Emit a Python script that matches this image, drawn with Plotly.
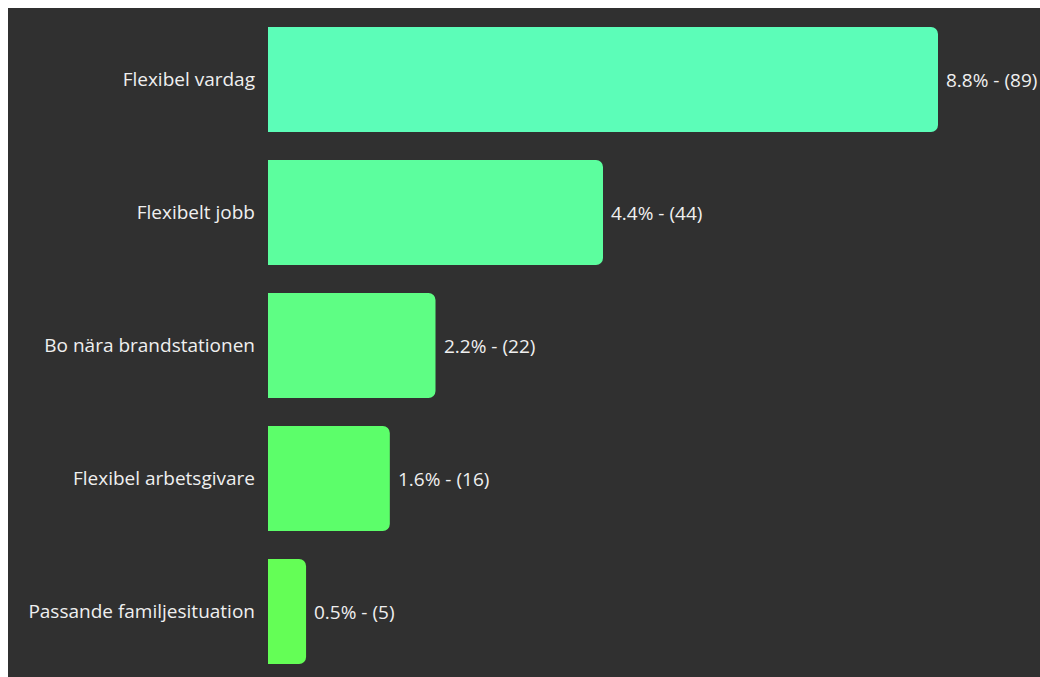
import plotly.graph_objects as go

# Survey answers: share of respondents and absolute counts
categories = [
    "Flexibel vardag",
    "Flexibelt jobb",
    "Bo nära brandstationen",
    "Flexibel arbetsgivare",
    "Passande familjesituation",
]
percent = [8.8, 4.4, 2.2, 1.6, 0.5]
counts = [89, 44, 22, 16, 5]
bar_colors = ["#5CFDB8", "#5CFE9E", "#5EFE84", "#5CFE6A", "#64FE56"]

W, H = 1040, 677
L_MARGIN = 268
BG = "#303030"
TEXT = "#EFEFEF"
FONT = "'Open Sans', Lato, sans-serif"
FONT_SIZE = 19

labels = [f"{p}% - ({c})" for p, c in zip(percent, counts)]

fig = go.Figure(
    go.Bar(
        x=percent,
        y=categories,
        orientation="h",
        marker=dict(color=bar_colors, line=dict(width=0)),
        hoverinfo="skip",
    )
)

# value labels just past the end of each bar
for cat, p, lab in zip(categories, percent, labels):
    fig.add_annotation(
        x=p, y=cat, text=lab, showarrow=False,
        xanchor="left", yanchor="middle", xshift=6,
        font=dict(family=FONT, size=FONT_SIZE, color=TEXT),
    )

plot_w = W - L_MARGIN
px_per_unit = 670 / 8.8
pitch = 133.0
top_offset = 79.5 / pitch

# thin white frame strips along the top and left edges
fig.add_shape(type="rect", xref="paper", yref="paper",
              x0=-L_MARGIN / plot_w - 0.01, x1=(8 - L_MARGIN) / plot_w,
              y0=-0.01, y1=1.01, fillcolor="white", line=dict(width=0), layer="above")
fig.add_shape(type="rect", xref="paper", yref="paper",
              x0=-L_MARGIN / plot_w - 0.01, x1=1.01,
              y0=1 - 8 / H, y1=1.01, fillcolor="white", line=dict(width=0), layer="above")

fig.update_layout(
    width=W, height=H,
    margin=dict(l=L_MARGIN, r=0, t=0, b=0),
    paper_bgcolor=BG, plot_bgcolor=BG,
    bargap=1 - 105 / pitch,
    barcornerradius=7,
    showlegend=False,
    font=dict(family=FONT, size=FONT_SIZE, color=TEXT),
)
fig.update_xaxes(
    range=[0, plot_w / px_per_unit],
    showgrid=False, zeroline=False, showticklabels=False, showline=False,
)
fig.update_yaxes(
    range=[-top_offset + H / pitch, -top_offset],
    showgrid=False, zeroline=False, showline=False,
    ticks="", ticklabelstandoff=12,
    tickfont=dict(family=FONT, size=FONT_SIZE, color=TEXT),
)

fig.write_html("out.html")
